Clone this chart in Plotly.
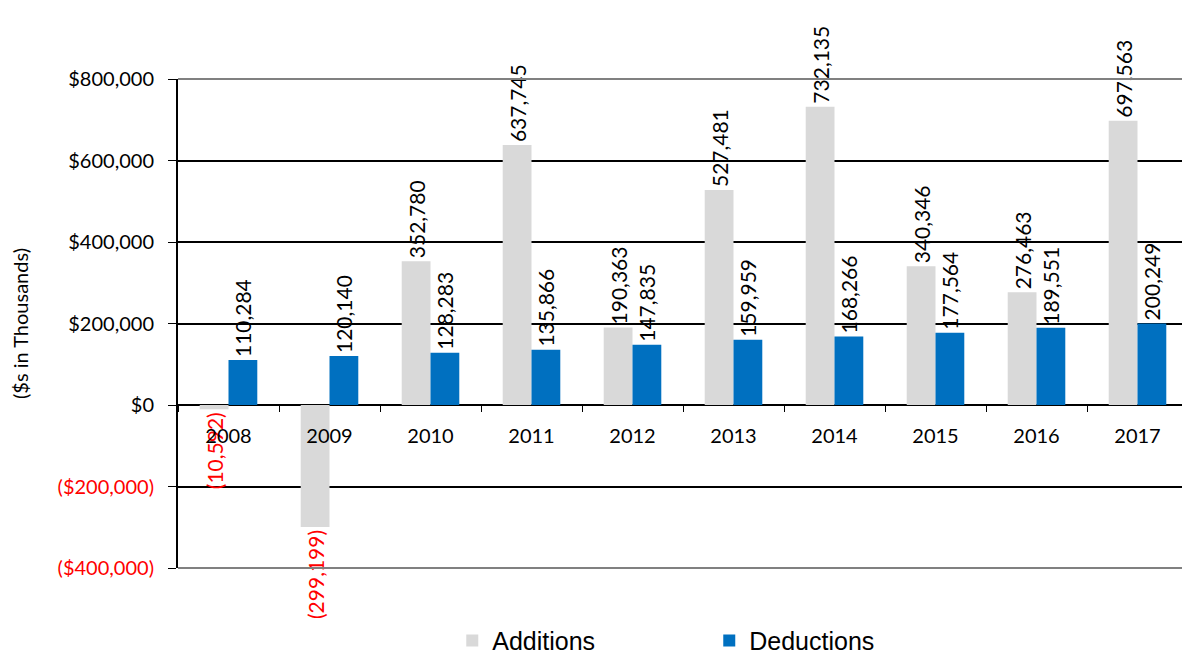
import plotly.graph_objects as go

years = ["2008", "2009", "2010", "2011", "2012", "2013", "2014", "2015", "2016", "2017"]
additions = [-10592, -299199, 352780, 637745, 190363, 527481, 732135, 340346, 276463, 697563]
deductions = [110284, 120140, 128283, 135866, 147835, 159959, 168266, 177564, 189551, 200249]

tick_vals = [-400000, -200000, 0, 200000, 400000, 600000, 800000]

GREY = "#d9d9d9"
BLUE = "#0070c0"
FONT = "Lato"


def fmt(v):
    return f"({abs(v):,})" if v < 0 else f"{v:,}"


def tick_label(v):
    if v < 0:
        return f"<span style='color:red'>(${abs(v):,})</span>"
    return f"${v:,}"


fig = go.Figure()
for name, vals, color in [("Additions", additions, GREY), ("Deductions", deductions, BLUE)]:
    fig.add_trace(go.Bar(
        name=name, x=years, y=vals,
        marker=dict(color=color, line=dict(width=0)),
        text=[fmt(v) for v in vals],
        textposition="outside",
        textangle=-90,
        constraintext="none",
        textfont=dict(family=FONT, size=21,
                      color=["red" if v < 0 else "black" for v in vals]),
        cliponaxis=False,
    ))

# page body has an 8px margin, so the figure is sized/offset to compensate
fig.update_layout(
    barmode="group", bargap=0.43, bargroupgap=0,
    width=1182, height=648,
    margin=dict(l=170, r=2, t=71, b=88, autoexpand=False),
    plot_bgcolor="white", paper_bgcolor="white",
    font=dict(family=FONT, size=20, color="black"),
    legend=dict(orientation="h", x=0.526, xanchor="center", xref="paper",
                y=-0.149, yanchor="middle", yref="paper",
                font=dict(family="Liberation Sans", size=25),
                entrywidth=212, itemwidth=30),
    shapes=[
        dict(type="line", xref="paper", yref="paper", x0=0, x1=1, y0=1, y1=1,
             line=dict(color="#808080", width=2), layer="above"),
        dict(type="line", xref="paper", yref="paper", x0=0, x1=1, y0=0, y1=0,
             line=dict(color="#808080", width=2), layer="above"),
    ],
)

fig.update_yaxes(
    range=[-400000, 800000], tickvals=tick_vals,
    ticktext=[tick_label(v) for v in tick_vals],
    showgrid=True, gridcolor="black", gridwidth=1.5,
    zeroline=True, zerolinecolor="black", zerolinewidth=1.5,
    showline=True, linecolor="black", linewidth=2,
    ticks="outside", ticklen=8, tickcolor="black",
    ticklabelstandoff=10,
    automargin=False,
    title=dict(text="($s in Thousands)", standoff=31, font=dict(size=20)),
)
fig.update_xaxes(
    anchor="free", position=1 / 3, automargin=False,
    showline=False, showgrid=False,
    ticks="outside", tickson="boundaries", ticklen=6, tickcolor="black",
    tickfont=dict(size=20), ticklabelstandoff=17,
)

fig.write_html("out.html")
